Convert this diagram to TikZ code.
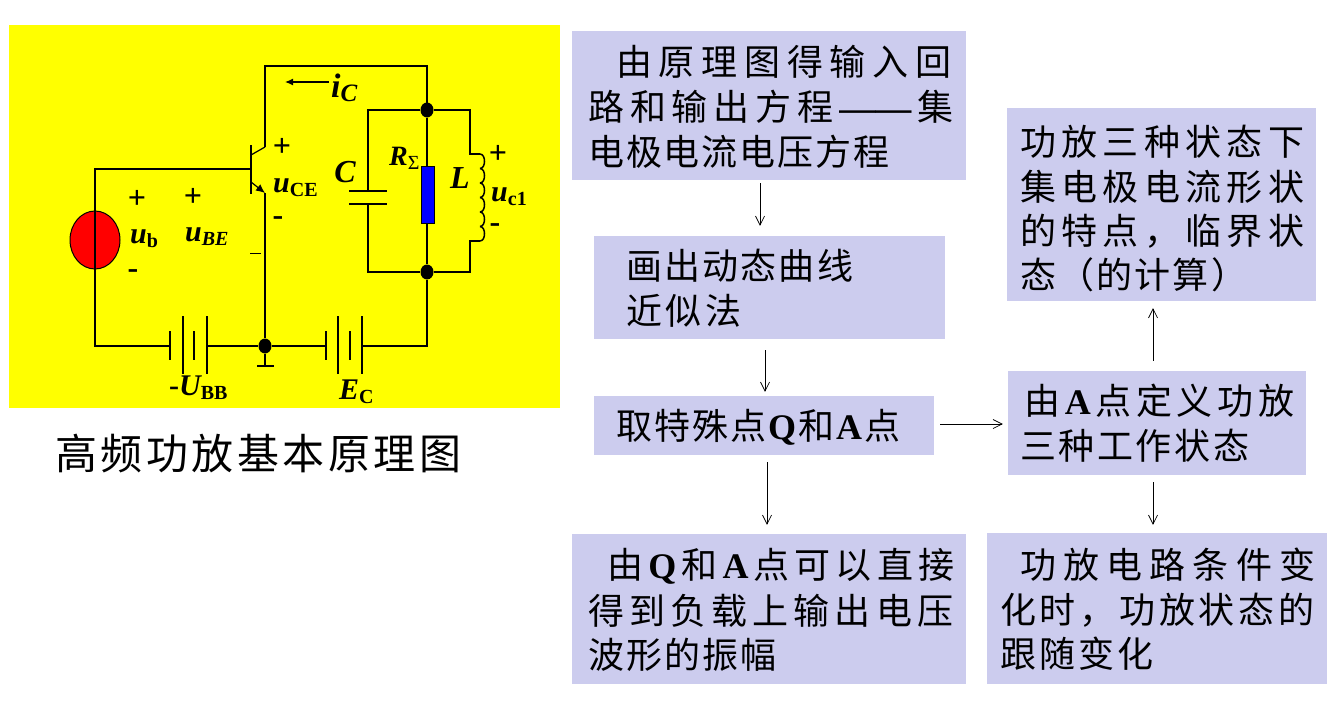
\documentclass[tikz,border=0pt]{standalone}
\usepackage{fontspec}
\setmainfont{Liberation Serif}
\newfontfamily\cjk{Noto Sans CJK SC}
\usetikzlibrary{arrows.meta,shapes.geometric}
\definecolor{panelyellow}{RGB}{255, 255, 0}
\definecolor{boxfill}{RGB}{204, 204, 238}
\definecolor{sourcered}{RGB}{255, 0, 0}
\definecolor{resblue}{RGB}{0, 0, 255}
\makeatletter
\newcommand{\spreadtext}[2]{\hbox to \dimexpr#1pt+1pt\relax{\kern-2pt\def\sep{\def\sep{\hfil}}\@tfor\ch:=#2\do{\sep\ch}}}
\makeatother
\newcommand{\latin}[1]{{\rmfamily\bfseries #1}}
\newcommand{\labsub}[2]{{\bfseries\itshape\fontsize{30}{30}\selectfont #1}\raisebox{-4pt}{\bfseries\fontsize{20}{20}\selectfont #2}}

\begin{document}
\begin{tikzpicture}[
      x=1pt, y=-1pt,
      cnbox/.style={fill=boxfill, inner sep=0pt},
      cnline/.style={anchor=west, inner sep=0pt, font=\cjk\fontsize{36}{36}\selectfont},
      flow/.style={draw=black, line width=0.7pt, -{Straight Barb[length=9pt,width=9pt]}},
      wire/.style={draw=black, line width=1.5pt},
      plate/.style={draw=black, line width=1.2pt},
      dotnode/.style={ellipse, fill=black, minimum width=13pt, minimum height=15pt, inner sep=0pt},
      sign/.style={inner sep=0pt, font=\bfseries\fontsize{32}{32}\selectfont},
      lab/.style={inner sep=0pt},
    ]
    \useasboundingbox (0,0) rectangle (1333,702);
    \fill[white] (0,0) rectangle (1333,702);
    %% yellow circuit panel
    \fill[panelyellow] (9,25) rectangle (560,408);
    \node[inner sep=0pt, anchor=west, font=\cjk\fontsize{42}{42}\selectfont] (caption) at (57,454)
      {\spreadtext{403}{高频功放基本原理图}};

    %% source and left loop
    \node[draw=black, fill=sourcered, line width=1pt, ellipse, minimum width=50pt, minimum height=58pt, inner sep=0pt] (src) at (95,240) {};
    \coordinate (tl) at (95,169);
    \coordinate (bl) at (95,346);
    \coordinate (base) at (251,169);
    \node[dotnode] (gnd) at (265,346) {};
    \draw[wire] (base) -- (tl) -- (bl) -- (170,346);
    \draw[wire] (207,346) -- (gnd);
    %% transistor
    \draw[plate] (251,145) -- (251,194);
    \draw[plate] (251,155) -- (265,147);
    \draw[plate, -{Latex[length=9pt,width=8pt]}] (251,182) -- (265,193);
    \draw[wire] (265,147) -- (265,66) -- (427,66) -- (427,109);
    \draw[wire] (265,193) -- (gnd);
    \draw[wire] (gnd) -- (265,366);
    \draw[wire] (257,366) -- (274,366);
    \draw[draw=black, line width=0.7pt] (250,253) -- (261,253);
    %% batteries
    \foreach \x in {170,194,326,350}{
      \draw[plate] (\x,331) -- (\x,360);
    }
    \foreach \x in {183,207,338,362}{
      \draw[plate] (\x,316) -- (\x,374);
    }
    %% tank
    \node[dotnode] (top) at (427,110) {};
    \node[dotnode] (bot) at (427,272) {};
    \draw[wire] (gnd) -- (326,346);
    \draw[wire] (362,346) -- (427,346) -- (bot);
    \draw[wire] (top) -- (bot);
    \node[draw=black, fill=resblue, line width=1pt, minimum width=13pt, minimum height=57pt, inner sep=0pt] (res) at (427.5,194.5) {};
    \draw[wire] (top) -- (368,110) -- (368,191);
    \draw[wire] (368,204) -- (368,272) -- (bot);
    \draw[wire] (349,191) -- (387,191);
    \draw[wire] (349,204) -- (387,204);
    \draw[wire] (top) -- (470,110) -- (470,154) -- (480,154);
    \draw[wire] (bot) -- (470,272) -- (470,241) -- (480,241);
    \foreach \k in {0,...,5}{
      \draw[wire] (480,{154+\k*14.5}) .. controls (486,{154+\k*14.5}) and (486,{168.5+\k*14.5}) .. (480,{168.5+\k*14.5});
    }
    %% current arrow
    \coordinate (ia) at (329,82);
    \coordinate (ib) at (285,82);
    \draw[plate, -{Latex[length=8pt,width=7pt]}] (ia) -- (ib);

    %% circuit labels
    \node[sign] (p1) at (137,199) {+};
    \node[sign] (p2) at (193,197) {+};
    \node[sign] (p3) at (282,147) {+};
    \node[sign] (p4) at (498,154) {+};
    \node[sign] (m1) at (133,274) {-};
    \node[sign] (m2) at (278,221) {-};
    \node[sign] (m3) at (495,228) {-};
    \node[lab, anchor=west] (ub) at (130,239) {\labsub{u}{b}};
    \node[lab, anchor=west] (ube) at (185,237) {\labsub{u}{\itshape BE}};
    \node[lab, anchor=west] (uce) at (273,188) {\labsub{u}{CE}};
    \node[lab, anchor=west] (uc) at (491,197) {\labsub{u}{c1}};
    \node[lab, anchor=west] (ic) at (331,88) {{\bfseries\itshape\fontsize{34}{34}\selectfont i}\raisebox{-4pt}{\bfseries\itshape\fontsize{25}{25}\selectfont C}};
    \node[lab] (cap) at (345,172) {\bfseries\itshape\fontsize{32}{32}\selectfont C};
    \node[lab, anchor=west] (rs) at (389,158) {{\bfseries\itshape\fontsize{28}{28}\selectfont R}\raisebox{-4pt}{\fontsize{20}{20}\selectfont Σ}};
    \node[lab] (ind) at (460,178) {\bfseries\itshape\fontsize{32}{32}\selectfont L};
    \node[lab, anchor=west] (ubb) at (169,388) {{\bfseries\fontsize{30}{30}\selectfont -}\labsub{U}{BB}};
    \node[lab, anchor=west] (ec) at (339,392) {\labsub{E}{C}};

    %% flow boxes
    \node[cnbox, minimum width=394pt, minimum height=149pt] (b1) at (769,105.5) {};
    \node[cnbox, minimum width=351pt, minimum height=103pt] (b2) at (769.5,287.5) {};
    \node[cnbox, minimum width=340pt, minimum height=59pt] (b3) at (764,425.5) {};
    \node[cnbox, minimum width=394pt, minimum height=150pt] (b4) at (769,609) {};
    \node[cnbox, minimum width=309pt, minimum height=193pt] (b5) at (1161.5,204.5) {};
    \node[cnbox, minimum width=298pt, minimum height=104pt] (b6) at (1157,423) {};
    \node[cnbox, minimum width=340pt, minimum height=151pt] (b7) at (1157,608.5) {};

    %% box texts
    \node[cnline] (b1a) at (618,62) {\spreadtext{332}{由原理图得输入回}};
    \node[cnline] (b1b) at (590,107) {\spreadtext{362}{路和输出方程{\latin{——}}集}};
    \node[cnline] (b1c) at (590,152) {\spreadtext{298}{电极电流电压方程}};
    \node[cnline] (b2a) at (628,266) {\spreadtext{224}{画出动态曲线}};
    \node[cnline] (b2b) at (628,311) {\spreadtext{112}{近似法}};
    \node[cnline] (b3a) at (618,427) {\spreadtext{281}{取特殊点{\latin{Q}}和{\latin{A}}点}};
    \node[cnline] (b4a) at (609,566) {\spreadtext{344}{由{\latin{Q}}和{\latin{A}}点可以直接}};
    \node[cnline] (b4b) at (590,611) {\spreadtext{362}{得到负载上输出电压}};
    \node[cnline] (b4c) at (590,655) {\spreadtext{185}{波形的振幅}};
    \node[cnline] (b5a) at (1022,142) {\spreadtext{281}{功放三种状态下}};
    \node[cnline] (b5b) at (1022,187) {\spreadtext{281}{集电极电流形状}};
    \node[cnline] (b5c) at (1022,231) {\spreadtext{281}{的特点，临界状}};
    \node[cnline] (b5d) at (1022,275) {\spreadtext{224}{态（的计算）}};
    \node[cnline] (b6a) at (1026,401) {\spreadtext{267}{由{\latin{A}}点定义功放}};
    \node[cnline] (b6b) at (1022,446) {\spreadtext{226}{三种工作状态}};
    \node[cnline] (b7a) at (1022,565) {\spreadtext{292}{功放电路条件变}};
    \node[cnline] (b7b) at (1002,610) {\spreadtext{311}{化时，功放状态的}};
    \node[cnline] (b7c) at (1002,654) {\spreadtext{150}{跟随变化}};

    %% flow arrows
    \draw[flow] ([shift={(-9,3)}]b1.south) -- ([shift={(-9.5,-10)}]b2.north);
    \draw[flow] ([shift={(-4.5,11)}]b2.south) -- ([shift={(1,-4)}]b3.north);
    \draw[flow] ([shift={(3,7)}]b3.south) -- ([shift={(-2,-9)}]b4.north);
    \draw[flow] ([shift={(6,-1.5)}]b3.east) -- ([shift={(-5,1)}]b6.west);
    \draw[flow] ([shift={(-4,-10)}]b6.north) -- ([shift={(-8.5,7)}]b5.south);
    \draw[flow] ([shift={(-4,7)}]b6.south) -- ([shift={(-4,-8)}]b7.north);
\end{tikzpicture}
\end{document}
